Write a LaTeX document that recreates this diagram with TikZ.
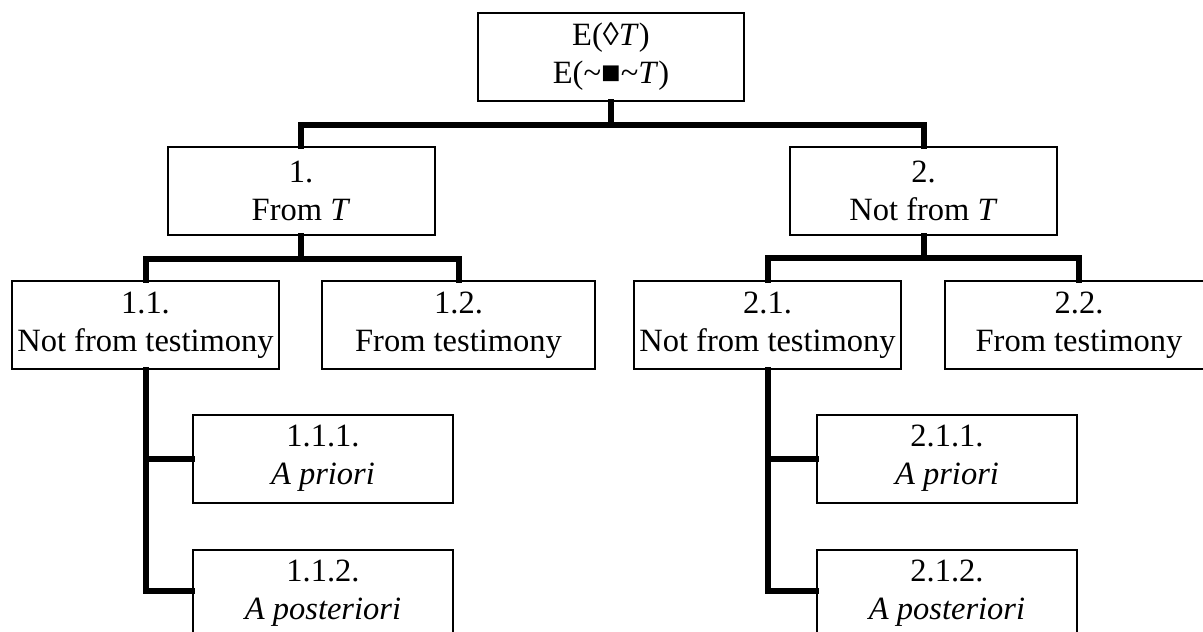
\documentclass[tikz,border=0pt]{standalone}
\usepackage{fontspec}
\setmainfont{Liberation Serif}
\usepackage{tikz}
\usetikzlibrary{calc}

\tikzset{
    box/.style={draw, line width=2pt, minimum width=267pt, minimum height=88pt, inner sep=0pt, align=center, font=\fontsize{32.5}{38}\selectfont},
    leaf/.style={box, minimum width=260pt},
    link/.style={line width=6pt, line join=miter, line cap=rect}
}

\begin{document}
\begin{tikzpicture}[x=1pt, y=-1pt]
            \useasboundingbox (0,0) rectangle (1203,632);
            \node[box, minimum width=266pt] (top) at (611,57) {E(◊\textit{T})\\E(\textasciitilde■\textasciitilde\textit{T})};
            \node[box] (n1) at (301,191) {1.\\From \textit{T}};
            \node[box] (n2) at (923.5,191) {2.\\Not from \textit{T}};
            \node[box] (n11) at (145.5,325) {1.1.\\Not from testimony};
            \node[box, minimum width=273pt] (n12) at (458.5,325) {1.2.\\From testimony};
            \node[box] (n21) at (767.5,325) {2.1.\\Not from testimony};
            \node[box, minimum width=268pt] (n22) at (1079,325) {2.2.\\From testimony};
            \node[leaf] (n111) at (323,458.5) {1.1.1.\\\textit{A priori}};
            \node[leaf] (n112) at (323,593.5) {1.1.2.\\\textit{A posteriori}};
            \node[leaf] (n211) at (947,458.5) {2.1.1.\\\textit{A priori}};
            \node[leaf] (n212) at (947,593.5) {2.1.2.\\\textit{A posteriori}};
            \draw[link] (top.south) -- ++(0,23) coordinate (j0);
            \draw[link] (n1.north) |- (j0) -| (n2.north);
            \draw[link] (n1.south) -- ++(0,23) coordinate (j1);
            \draw[link] (n11.north) |- (j1) -| (n12.north);
            \draw[link] (n2.south) -- ++(0,22) coordinate (j2);
            \draw[link] (n21.north) |- (j2) -| (n22.north);
            \draw[link] (n11.south) |- ($(n112.west)+(0,-3)$);
            \draw[link] (n11.south |- n111.west) -- (n111.west);
            \draw[link] (n21.south) |- ($(n212.west)+(0,-3)$);
            \draw[link] (n21.south |- n211.west) -- (n211.west);
        \end{tikzpicture}
\end{document}
